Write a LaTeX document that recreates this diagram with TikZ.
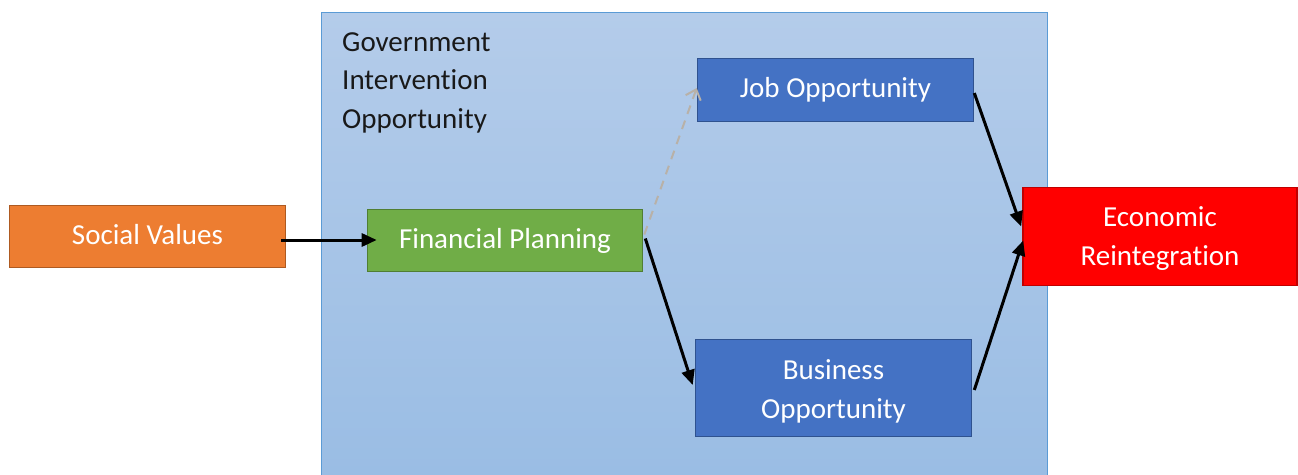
\documentclass[tikz,border=0pt]{standalone}
\usepackage{fontspec}
\setmainfont[Ligatures=NoCommon]{Carlito}
\usetikzlibrary{arrows.meta,calc}
\definecolor{orangeF}{RGB}{237,125,49}
\definecolor{orangeD}{RGB}{174,90,33}
\definecolor{greenF}{RGB}{112,173,71}
\definecolor{greenD}{RGB}{80,126,50}
\definecolor{blueF}{RGB}{68,114,196}
\definecolor{blueD}{RGB}{47,82,143}
\definecolor{redF}{RGB}{255,0,0}
\definecolor{redD}{RGB}{192,0,0}
\definecolor{panelT}{RGB}{180,204,234}
\definecolor{panelB}{RGB}{154,189,228}
\definecolor{panelD}{RGB}{91,155,213}
\definecolor{dashG}{RGB}{184,177,168}
\tikzset{
  box/.style={draw, line width=1.6pt, inner sep=0pt},
  boxtext/.style={text=white, inner sep=0pt, align=center,
    font=\fontsize{29}{39}\selectfont},
  conn/.style={line width=3pt, -{Triangle[length=15pt,width=13pt]}},
}
\begin{document}
\begin{tikzpicture}[x=1pt,y=-1pt]
\useasboundingbox (0,0) rectangle (1298,474);
\shade[top color=panelT, bottom color=panelB] (321,12) rectangle (1047,474);
\draw[panelD, line width=1pt] (321,476) -- (321,12) -- (1047,12) -- (1047,476);
\node[anchor=north west, inner sep=0pt, align=left, text=black!90,
  font=\fontsize{29}{38.3}\selectfont] (gov) at (342,32.5) {Government\\Intervention\\Opportunity};
\node[box, fill=orangeF, draw=orangeD, minimum width=276pt, minimum height=62pt,
  label={[boxtext, yshift=1.5pt]center:Social Values}] (sv) at (147.5,236.5) {};
\node[box, fill=greenF, draw=greenD, minimum width=275pt, minimum height=62pt,
  label={[boxtext]center:Financial Planning}] (fp) at (505,240.5) {};
\node[box, fill=blueF, draw=blueD, minimum width=276pt, minimum height=63pt,
  label={[boxtext]center:Job Opportunity}] (jo) at (835.5,90) {};
\node[box, fill=blueF, draw=blueD, minimum width=276pt, minimum height=97pt,
  label={[boxtext, yshift=-3pt]center:Business\\Opportunity}] (bo) at (833.5,388) {};
\node[box, fill=redF, draw=redD, minimum width=274pt, minimum height=98pt,
  label={[boxtext, yshift=-2.5pt]center:Economic\\Reintegration}] (ec) at (1160,236.5) {};
\draw[conn] ($(sv.east)+(-5,3.5)$) -- ($(fp.west)+(10,-0.5)$);
\draw[conn] ($(fp.east)+(2,-2)$) -- ($(bo.west)+(-2,-3)$);
\draw[conn] ($(jo.east)+(0,3)$) -- ($(ec.west)+(-1,-10)$);
\draw[conn] ($(bo.east)+(2,2)$) -- ($(ec.west)+(1,4)$);
\draw[dashG, line width=2pt, dash pattern=on 9pt off 7pt, -{Straight Barb[length=9pt,width=16pt]}] ($(fp.east)+(1,-6)$) -- ($(jo.west)+(0,-2)$);
\end{tikzpicture}
\end{document}
